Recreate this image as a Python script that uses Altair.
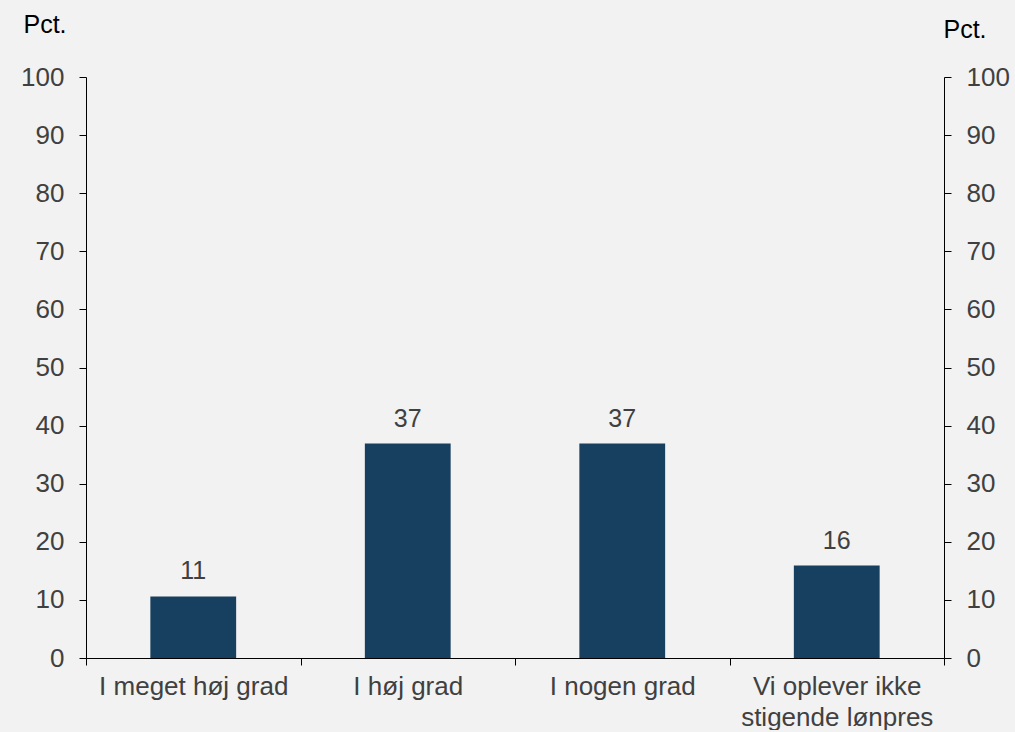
import altair as alt
import pandas as pd

categories = ["I meget høj grad", "I høj grad", "I nogen grad", "Vi oplever ikke\nstigende lønpres"]
values = [10.6, 36.9, 36.9, 15.9]
labels = ["11", "37", "37", "16"]

df = pd.DataFrame({"cat": categories, "val": values, "lab": labels})

FONT = "Liberation Sans"
GREY = "#404040"
FS = 26

x = alt.X("cat:N", sort=categories, title=None,
          scale=alt.Scale(paddingInner=0, paddingOuter=0),
          axis=alt.Axis(labelAngle=0, tickBand="extent", labelExpr="split(datum.label, '\\n')",
                        labelFontSize=FS, labelColor=GREY, labelFont=FONT, labelPadding=8,
                        labelLineHeight=31, tickSize=7, tickColor="black", domainColor="black",
                        labelLimit=400))


def yaxis(orient, tx, ty):
    return alt.Axis(orient=orient, values=list(range(0, 101, 10)), grid=False, title="Pct.",
                    titleAngle=0, titleAlign="left", titleBaseline="alphabetic",
                    titleX=tx, titleY=ty, titleFontSize=25, titleFont=FONT,
                    titleFontWeight="normal", titleColor="black",
                    labelFontSize=FS, labelColor=GREY, labelFont=FONT, labelPadding=15,
                    tickSize=7, tickColor="black", domainColor="black")


bars = alt.Chart(df).mark_bar(color="#173f5f", width=alt.RelativeBandSize(0.4)).encode(
    x=x,
    y=alt.Y("val:Q", scale=alt.Scale(domain=[0, 100]), axis=yaxis("left", -63, -45)),
)

text = alt.Chart(df).mark_text(dy=-17, baseline="alphabetic", fontSize=25, font=FONT, color=GREY).encode(
    x=x,
    y=alt.Y("val:Q", scale=alt.Scale(domain=[0, 100]), axis=yaxis("right", -1, -40)),
    text="lab:N",
)

chart = alt.layer(bars, text).resolve_scale(y="independent").properties(
    width=858, height=581,
    background="#f2f2f2",
    autosize=alt.AutoSizeParams(type="none"),
    padding={"left": 86, "top": 77, "right": 70, "bottom": 72},
).configure_view(stroke=None)

chart.save("out.html", embed_options={"renderer": "svg", "actions": False})

with open("out.html", encoding="utf-8") as f:
    html = f.read()
html = html.replace("<body>", '<body style="background:#f2f2f2;margin:0;overflow:hidden">', 1)
with open("out.html", "w", encoding="utf-8") as f:
    f.write(html)
